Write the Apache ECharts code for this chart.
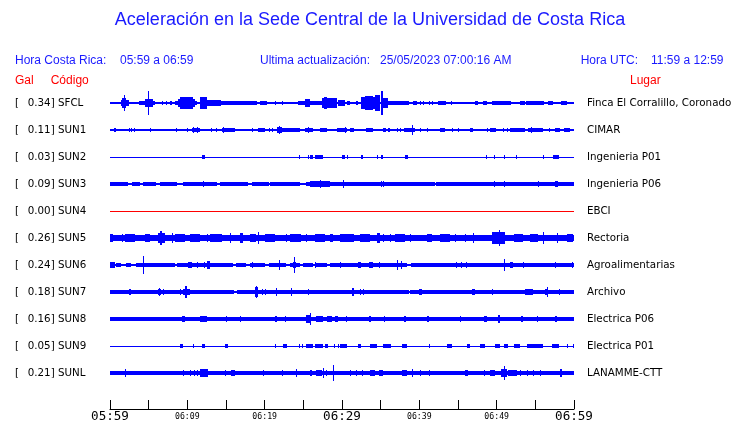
<!DOCTYPE html>
<html><head><meta charset="utf-8">
<script src="https://cdn.jsdelivr.net/npm/echarts@6/dist/echarts.min.js"></script>
<style>html,body{margin:0;padding:0;background:#fff}#c{width:740px;height:423px}</style>
</head><body><div id="c"></div>
<script>
// ---- data ----
const codes = ['SFCL','SUN1','SUN2','SUN3','SUN4','SUN5','SUN6','SUN7','SUN8','SUN9','SUNL'];
const gal = ['0.34','0.11','0.03','0.09','0.00','0.26','0.24','0.18','0.16','0.05','0.21'];
const places = ['Finca El Corralillo, Coronado','CIMAR','Ingenieria P01','Ingenieria P06','EBCI','Rectoria','Agroalimentarias','Archivo','Electrica P06','Electrica P01','LANAMME-CTT'];
// baseline half-amplitude per station (row spacing = 100)
const baseAmp = [3.0, 2.6, 1.8, 2.6, 1.8, 10.2, 2.6, 2.6, 6.3, 1.8, 6.3];
// time in minutes after 05:59, [start, end, half-amplitude]
const sun3Thick = [[0,2.3,5.7],[2.8,3.9,5.7],[4.3,6.0,5.7],[6.5,8.6,5.7],[9.5,13.8,5.7],[14.2,17.9,5.7],[18.3,20.5,5.7],[20.7,24.6,5.7],[25.4,42.0,5.7],[42.1,60,5.7]];
const sun6Thick = [[0,0.6,7.4],[0.8,1.4,7.4],[2.1,2.7,7.4],[3.4,8.4,7.4],[8.7,15.9,7.4],[16.3,17.6,7.4],[18.1,20.0,7.4],[20.5,22.8,7.4],[23.3,24.6,7.4],[25.0,26.3,7.4],[26.7,28.0,7.4],[28.4,38.4,7.4],[38.9,60,7.4]];
const sun7Thick = [[0,16.0,6.3],[16.4,38.6,6.3],[38.8,60,6.3]];
const sfcl = [[1.4,2.4,11],[1.6,2.1,18.5],[1.8,1.9,28],[3.8,4.5,5.6],[4.5,5.6,15],[4.9,5.0,43],[5.6,5.8,5.6],
[6.7,6.7,5.6],[7.2,7.2,5.6],[7.8,8.0,5.6],[8.4,11.2,7.4],[8.8,11.0,15],[9.1,10.7,22],
[11.7,12.5,24],[12.5,14.4,12],[14.4,15.7,9],[15.7,19.0,5.6],[19.4,20.3,5.6],[21.3,21.3,5.6],[22.3,22.3,5.6],
[24.3,25.2,5.6],[25.2,25.9,15],[25.9,27.4,7.4],[27.4,29.3,20],[27.7,28.0,22],[29.5,30.4,11],[30.6,31.0,7.4],[31.8,32.1,7.4],
[32.5,34.9,24],[33.0,34.0,27],[34.3,34.9,30],[35.1,35.3,43],[35.3,36.0,18.5],
[36.0,38.6,5.6],[39.2,39.7,5.6],[40.1,40.1,5.6],[40.5,40.5,5.6],[41.2,41.2,5.6],[41.6,41.6,5.6],
[42.4,43.5,5.6],[44.1,44.1,5.6],[47.2,47.6,5.6],[48.2,48.7,5.6],[49.4,51.9,5.6],[49.9,50.3,7.4],
[53.0,53.7,5.6],[53.8,56.1,5.6],[56.6,57.3,5.6],[58.3,59.1,5.6]];
const sun1 = [[0.5,0.8,5.6],[2.4,2.4,7.4],[2.7,2.7,7.4],[3.1,3.1,7.4],[5.2,5.2,5.6],[8.5,8.5,5.6],[10.0,10.0,5.6],
[10.6,11.6,5.6],[10.7,10.8,11],[11.2,11.3,9.3],[13.1,13.1,5.6],[13.7,13.7,5.6],
[14.5,16.2,5.6],[14.6,14.7,11],[18.3,18.3,5.6],[19.2,20.1,5.6],[20.5,20.5,5.6],[20.9,20.9,5.6],
[21.6,22.2,11],[21.9,22.0,16],[22.2,24.6,5.6],[25.2,26.3,5.6],[25.6,25.7,9.3],[27.2,28.0,5.6],
[29.3,29.7,5.6],[29.7,30.6,7.4],[30.4,30.4,11],[31.0,31.5,5.6],[33.1,34.0,5.6],[35.3,35.7,5.6],[35.9,36.2,5.6],
[37.1,37.1,5.6],[37.5,37.5,5.6],[38.0,39.4,5.6],[39.1,39.1,16.7],[40.1,40.1,5.6],[41.0,41.0,5.6],
[42.7,43.3,5.6],[44.2,44.2,5.6],[45.0,45.0,5.6],[46.6,47.0,5.6],[48.7,48.7,5.6],[49.2,49.9,5.6],
[50.8,50.8,5.6],[51.3,51.3,5.6],[51.7,53.7,5.6],[54.1,56.0,5.6],[54.5,54.6,9.3],[56.8,56.8,5.6],[57.5,58.2,5.6],[58.7,59.5,5.6]];
const sun2 = [[11.9,12.3,5.6],[24.5,24.5,5.6],[25.6,25.6,5.6],[25.9,26.3,5.6],[26.5,27.5,5.6],[30.0,30.4,5.6],[30.7,30.7,5.6],
[32.5,32.7,5.6],[34.5,34.6,5.6],[35.0,35.3,5.6],[38.2,38.5,5.6],[48.6,48.6,5.6],[49.7,49.7,5.6],[50.9,50.9,5.6],
[52.5,52.5,5.6],[56.0,56.0,5.6],[57.3,58.0,5.6]];
const sun3 = [[12.0,12.0,11],[14.2,14.2,7.4],[25.9,28.4,12],[27.1,27.2,15.5],[29.5,29.5,7.4],[30.1,30.1,13.7],[35.1,35.1,10],[35.3,35.3,10],
[36.0,36.0,7.4],[38.1,38.1,7.4],[49.7,49.7,10],[50.9,50.9,10],[55.4,55.4,10],[57.5,57.9,10]];
const sun4 = [];
const sun5 = [[0,0.4,14.8],[1.5,1.5,14.8],[2.0,3.2,14],[2.4,2.4,14.8],[4.5,5.2,14],[6.2,7.1,18.5],[6.5,6.7,27],[8.0,8.0,17.4],
[8.4,9.7,14],[10.3,11.6,13],[12.5,12.5,14.8],[12.9,14.5,14],[15.5,15.5,17.4],[16.8,17.2,16.7],[18.1,18.9,14],
[19.2,19.2,21],[20.0,21.3,14],[22.8,22.8,14.8],[23.3,24.6,14],[24.6,24.6,14.8],[25.4,25.4,14.8],[26.5,27.8,14],
[28.4,28.9,14.8],[29.7,31.5,14.8],[32.3,33.6,14],[34.5,34.9,16.7],[35.3,35.3,14.8],[36.2,36.2,14.8],[36.9,38.1,14],
[38.8,38.8,14.8],[41.0,41.6,16],[42.7,44.0,14],[44.6,44.6,14.8],[45.9,45.9,14.8],[47.0,47.0,17.4],
[49.4,51.1,20.4],[49.9,50.7,24],[50.3,50.4,29],[52.2,53.4,14.8],[54.3,55.3,14],[56.0,56.0,20.4],[57.8,57.8,16.7],[59.1,59.9,14.8]];
const sun6 = [[0,0.6,9.3],[0.3,0.3,11],[4.3,4.3,33],[10.1,10.6,9.3],[11.2,11.2,11],[12.1,12.1,9.3],[12.6,12.9,13],[18.3,18.3,9.3],
[21.8,21.8,16.7],[23.6,24.1,11],[23.8,23.8,28],[26.5,26.5,9.3],[29.7,29.7,9.3],[32.1,32.5,9.3],[33.5,34.0,11],[34.8,34.8,9.3],
[37.1,37.1,18.5],[37.6,37.6,13],[44.8,44.8,11],[45.4,45.4,9.3],[46.0,46.0,9.3],[50.9,50.9,20.4],[51.7,52.1,11],[53.4,53.4,11],
[57.5,57.5,9.3],[59.7,59.7,9.3]];
const sun7 = [[1.3,1.3,7.4],[2.4,2.7,9.3],[4.3,4.3,7.4],[6.2,6.6,9.3],[6.4,6.4,14.8],[6.9,6.9,9.3],[9.1,9.1,9.3],[9.4,10.3,9.3],
[9.7,10.0,22],[9.8,9.8,24],[18.8,19.2,16.7],[18.9,18.9,20.4],[19.6,19.6,11],[20.0,20.0,9.3],[21.5,21.5,14.8],[23.4,23.4,13],
[25.6,25.6,9.3],[28.4,28.4,7.4],[29.5,29.5,7.4],[31.3,31.5,13],[32.3,32.3,9.3],[32.7,32.7,9.3],[34.0,34.0,7.4],[35.0,35.0,7.4],
[39.9,40.3,9.3],[41.4,41.4,7.4],[42.9,43.7,7.4],[44.7,45.0,7.4],[46.8,47.2,9.3],[49.4,49.4,9.3],[53.7,54.7,11],[56.3,56.7,9.3],
[56.5,56.5,16.7],[58.0,58.0,9.3]];
const sun8 = [[3.7,3.7,7.4],[9.3,9.7,9.3],[11.6,12.5,9.3],[13.7,13.7,7.4],[14.4,14.4,7.4],[15.0,15.0,12],[15.5,15.5,7.4],[16.2,16.2,7.4],
[16.8,16.8,9.3],[19.7,19.7,7.4],[21.3,21.6,11],[22.6,22.8,9.3],[24.9,24.9,7.4],[25.4,26.0,14.8],[25.8,25.8,21.5],[26.7,27.6,11],
[28.0,28.7,9.3],[29.1,29.5,9.3],[30.5,30.7,9.3],[33.5,33.7,9.3],[35.4,35.6,11],[38.0,38.3,9.3],[41.0,41.2,9.3],[45.2,45.4,11],
[48.4,48.8,11],[50.2,50.4,13],[53.1,53.4,9.3],[55.2,55.4,11],[57.6,57.8,9.3]];
const sun9 = [[9.1,9.4,5.6],[10.7,10.7,5.6],[11.9,12.3,5.6],[14.9,15.2,5.6],[21.4,21.4,5.6],[22.4,22.9,5.6],[24.5,24.5,5.6],[24.8,24.8,5.6],
[25.3,26.3,5.6],[26.5,27.5,5.6],[27.8,28.2,5.6],[29.0,29.0,5.6],[29.5,29.5,5.6],[29.7,30.6,5.6],[32.1,32.5,5.6],[33.6,34.5,5.6],
[35.3,36.4,5.6],[37.7,38.4,5.6],[41.2,41.2,5.6],[43.6,44.2,5.6],[46.1,46.6,5.6],[47.8,48.5,5.6],[49.8,50.4,5.6],[50.9,51.5,5.6],
[52.2,53.0,5.6],[53.9,56.0,5.6],[57.2,58.0,5.6],[59.1,59.1,5.6],[59.9,59.9,5.6]];
const sunl = [[0,1.1,7.4],[1.9,1.9,13],[9.4,9.4,9.3],[10.3,10.3,9.3],[10.8,10.8,9.3],[11.2,11.2,9.3],[11.6,12.7,13],[12.5,12.5,14.8],
[14.9,14.9,9.3],[15.6,16.2,11],[19.8,19.8,9.3],[22.2,22.2,9.3],[24.1,24.1,13],[25.8,26.1,11],[26.7,27.4,12],[27.5,27.5,16.7],
[27.9,27.9,9.3],[28.9,28.9,28],[31.0,31.0,9.3],[31.8,31.8,9.3],[32.6,32.6,9.3],[33.6,34.3,11],[34.8,35.3,11],[37.7,38.4,9.3],
[39.0,39.2,14.8],[40.1,40.1,11],[41.3,41.3,9.3],[45.9,46.3,11],[48.3,48.3,9.3],[49.1,49.8,11],[50.6,51.3,14.8],[51.0,51.0,27],
[51.5,52.6,12],[53.0,53.0,9.3],[53.9,53.9,9.3],[54.7,54.7,9.3],[55.6,55.6,9.3],[58.2,58.5,14.8],[58.8,60,8.5]];
const traces = [sfcl, sun1, sun2, sun3, sun4, sun5, sun6, sun7, sun8, sun9, sunl];
const labelMinutes = [0, 10, 20, 30, 40, 50, 60];
const labelTexts = ['05:59','06:09','06:19','06:29','06:39','06:49','06:59'];
const majorMinutes = [0, 30, 60];

// ---- build ----
const BLUE = '#0000ff', RED = '#ff0000', TXT = '#1a1aff';
const items = [];
codes.forEach((c, r) => {
  items.push([r, 0, 60, baseAmp[r]]);
});
[[3, sun3Thick], [6, sun6Thick], [7, sun7Thick]].forEach(([r, arr]) => arr.forEach(e => items.push([r, e[0], e[1], e[2]])));
traces.forEach((arr, r) => arr.forEach(e => items.push([r, e[0], e[1], e[2]])));

function renderTrace(params, api) {
  const r = api.value(0), s = api.value(1), e = api.value(2), a = api.value(3);
  const p0 = api.coord([s, r * 100 - a]);
  const p1 = api.coord([e, r * 100 + a]);
  const c = api.coord([s, r * 100]);
  const half = Math.abs(p1[1] - p0[1]) / 2;
  const x0 = Math.round(p0[0]);
  const x1 = Math.max(Math.round(p1[0]), x0 + 1);
  const y0 = Math.round(c[1] - half);
  const y1 = Math.max(Math.round(c[1] + half), y0 + 1);
  return { type: 'rect', shape: { x: x0, y: y0, width: x1 - x0, height: y1 - y0 },
    style: { fill: r === 4 ? RED : BLUE } };
}
function renderLabels(params, api) {
  const r = api.value(0);
  const y = api.coord([0, r * 100])[1];
  const f = '10.3px "DejaVu Sans"';
  return { type: 'group', children: [
    { type: 'text', x: 15, y: y, style: { text: '[', font: f, fill: '#000', verticalAlign: 'middle' } },
    { type: 'text', x: 27.7, y: y, style: { text: gal[r] + '] ' + codes[r], font: f, fill: '#000', verticalAlign: 'middle' } },
    { type: 'text', x: 587, y: y, style: { text: places[r], font: f, fill: '#000', verticalAlign: 'middle' } }
  ]};
}

const chart = echarts.init(document.getElementById('c'), null, { renderer: 'canvas' });
const hdr = '12px "Liberation Sans", Arial, sans-serif';
chart.setOption({
  animation: false,
  backgroundColor: '#fff',
  grid: { left: 110, right: 166, top: 89.5, bottom: 14 },
  xAxis: {
    type: 'value', min: 0, max: 60, interval: 5,
    axisLine: { onZero: false, lineStyle: { color: '#000', width: 1 } },
    axisTick: { inside: true, length: 9, lineStyle: { color: '#000' } },
    splitLine: { show: false },
    axisLabel: {
      margin: 1, showMinLabel: true, showMaxLabel: true,
      formatter: v => {
        const i = labelMinutes.indexOf(v);
        if (i < 0) return '';
        return majorMinutes.indexOf(v) >= 0 ? '{big|' + labelTexts[i] + '}' : '{small|' + labelTexts[i] + '}';
      },
      rich: {
        big: { fontFamily: 'DejaVu Sans Mono', fontSize: 12.6, lineHeight: 13, color: '#000' },
        small: { fontFamily: 'DejaVu Sans Mono', fontSize: 8.2, lineHeight: 13, color: '#000' }
      }
    }
  },
  yAxis: { type: 'value', min: -50, max: 1133.33, inverse: true, show: false },
  graphic: [
    { type: 'text', left: 'center', top: 11, style: { text: 'Aceleración en la Sede Central de la Universidad de Costa Rica', font: '18px "Liberation Sans", Arial, sans-serif', fill: TXT } },
    { type: 'text', x: 15, y: 61, style: { text: 'Hora Costa Rica:', font: hdr, fill: TXT, verticalAlign: 'middle' } },
    { type: 'text', x: 120, y: 61, style: { text: '05:59 a 06:59', font: hdr, fill: TXT, verticalAlign: 'middle' } },
    { type: 'text', x: 260, y: 61, style: { text: 'Ultima actualización:', font: hdr, fill: TXT, verticalAlign: 'middle' } },
    { type: 'text', x: 380, y: 61, style: { text: '25/05/2023 07:00:16 AM', font: hdr, fill: TXT, verticalAlign: 'middle' } },
    { type: 'text', x: 580.7, y: 61, style: { text: 'Hora UTC:', font: hdr, fill: TXT, verticalAlign: 'middle' } },
    { type: 'text', x: 651, y: 61, style: { text: '11:59 a 12:59', font: hdr, fill: TXT, verticalAlign: 'middle' } },
    { type: 'text', x: 15, y: 81, style: { text: 'Gal', font: hdr, fill: RED, verticalAlign: 'middle' } },
    { type: 'text', x: 50.7, y: 81, style: { text: 'Código', font: hdr, fill: RED, verticalAlign: 'middle' } },
    { type: 'text', x: 630, y: 81, style: { text: 'Lugar', font: hdr, fill: RED, verticalAlign: 'middle' } }
  ],
  series: [
    { type: 'custom', renderItem: renderTrace, data: items, clip: false, silent: true },
    { type: 'custom', renderItem: renderLabels, data: codes.map((c, r) => [r]), silent: true }
  ]
});
</script></body></html>
